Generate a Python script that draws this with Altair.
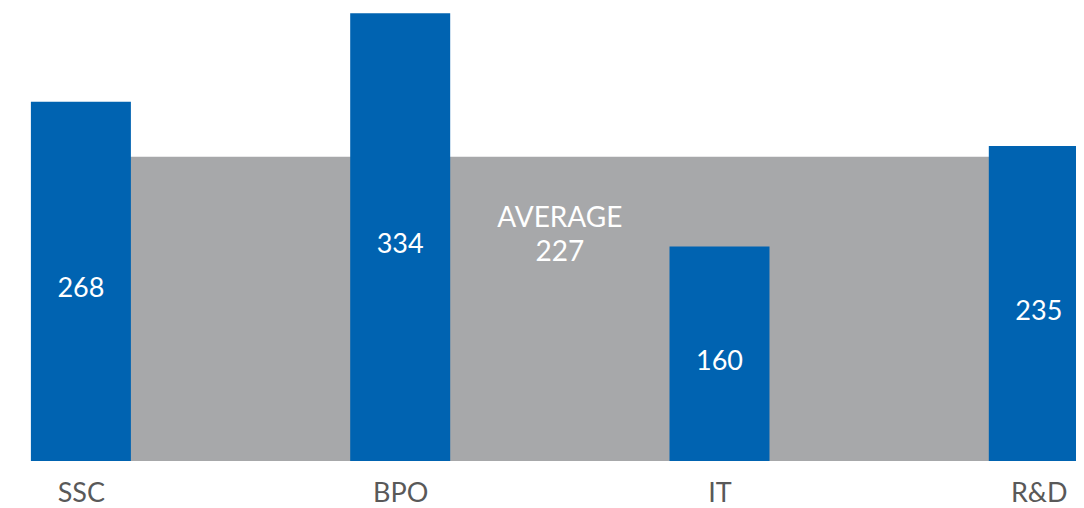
import json
import altair as alt
import pandas as pd

# ---- data ----
categories = ["SSC", "BPO", "IT", "R&D"]
values = [268, 334, 160, 235]
average_value = 227
average_label = "AVERAGE"

# ---- styling ----
BLUE = "#0063B1"
GRAY = "#A7A8AA"
LABEL = "#595959"
FONT = "Lato"

idx = list(range(len(categories)))
bars_df = pd.DataFrame({"idx": idx, "category": categories, "value": values})
bars_df["mid"] = bars_df["value"] / 2

avg_df = pd.DataFrame({
    "x0": [idx[0]],
    "x1": [idx[-1]],
    "xm": [(idx[0] + idx[-1]) / 2],
    "y0": [0],
    "avg": [average_value],
    "label": [f"{average_label}\n{average_value}"],
})

label_expr = "[" + ",".join(json.dumps(c) for c in categories) + "][datum.value]"

xscale = alt.Scale(domain=[-0.2283, 3.1165], nice=False, zero=False, padding=0)
yscale = alt.Scale(domain=[0, 338], nice=False, zero=True, padding=0)

x_axis = alt.Axis(
    values=idx, labelExpr=label_expr, title=None, domain=False, ticks=False,
    tickSize=0, grid=False, labelFont=FONT, labelFontSize=27, labelColor=LABEL,
    labelPadding=19, labelFlush=False, labelOverlap=False,
)

avg_rect = alt.Chart(avg_df).mark_rect(color=GRAY, clip=True).encode(
    x=alt.X("x0:Q", scale=xscale, axis=x_axis),
    x2="x1:Q",
    y=alt.Y("y0:Q", scale=yscale, axis=None),
    y2="avg:Q",
)

bars = alt.Chart(bars_df).mark_bar(color=BLUE, size=100, orient="vertical", clip=True).encode(
    x=alt.X("idx:Q", scale=xscale, axis=x_axis),
    y=alt.Y("value:Q", scale=yscale, axis=None, stack=None),
)

value_text = alt.Chart(bars_df).mark_text(
    color="white", font=FONT, fontSize=27, baseline="middle", align="center", dy=8
).encode(
    x=alt.X("idx:Q", scale=xscale, axis=x_axis),
    y=alt.Y("mid:Q", scale=yscale, axis=None),
    text=alt.Text("value:Q"),
)

avg_text = alt.Chart(avg_df).mark_text(
    color="white", font=FONT, fontSize=28, baseline="alphabetic", align="center",
    lineBreak="\n", lineHeight=34, dy=70,
).encode(
    x=alt.X("xm:Q", scale=xscale, axis=x_axis),
    y=alt.Y("avg:Q", scale=yscale, axis=None),
    text=alt.Text("label:N"),
)

chart = alt.layer(avg_rect, bars, value_text, avg_text).properties(
    width=1068,
    height=453,
    autosize=alt.AutoSizeParams(type="none"),
    padding={"left": 0, "right": 0, "top": 0, "bottom": 47},
    background="white",
).configure_view(stroke=None)

chart.save("out.html", embed_options={"renderer": "svg", "actions": False})
